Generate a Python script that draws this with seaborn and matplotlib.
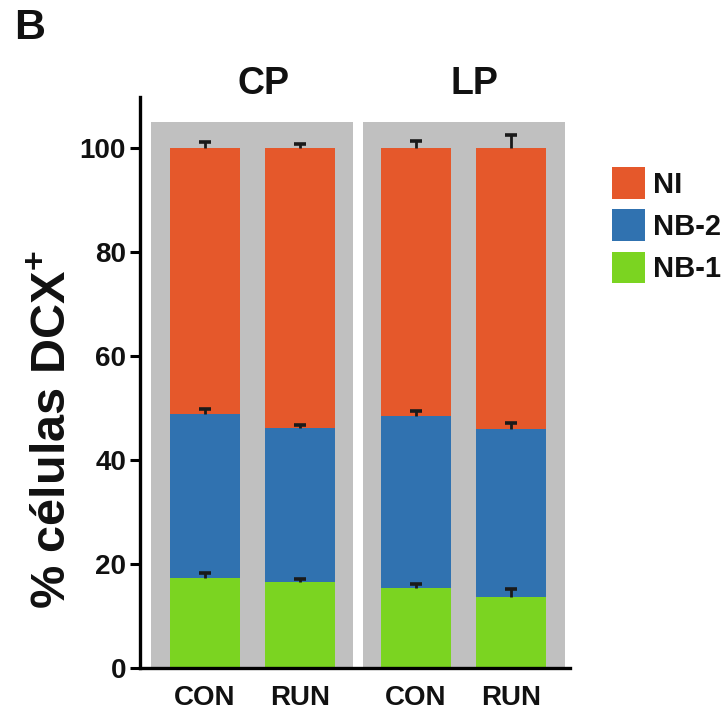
import numpy as np
import pandas as pd
import seaborn as sns
import matplotlib
matplotlib.use("Agg")
import matplotlib.pyplot as plt
from matplotlib.patches import Patch

# Stacked composition (%) of DCX+ cells per group
groups = ["CP", "CP", "LP", "LP"]
conditions = ["CON", "RUN", "CON", "RUN"]
nb1 = [17.3, 16.5, 15.3, 13.7]
nb2 = [31.5, 29.6, 33.1, 32.2]
ni = [51.2, 53.9, 51.6, 54.1]
err_nb1 = [1.0, 0.7, 0.8, 1.5]
err_nb2 = [1.0, 0.7, 1.0, 1.2]
err_ni = [1.2, 0.7, 1.3, 2.4]
layer_names = ["NI", "NB-2", "NB-1"]
layer_colors = ["#E5582B", "#3072B0", "#7BD421"]
panel_color = "#C0C0C0"
yticks = [0, 20, 40, 60, 80, 100]

sns.set_theme(style="white")
plt.rcParams["font.family"] = ["Liberation Sans", "DejaVu Sans"]
plt.rcParams["font.weight"] = "bold"
plt.rcParams["text.color"] = "#111111"
plt.rcParams["xtick.color"] = "#111111"
plt.rcParams["ytick.color"] = "#111111"
plt.rcParams["mathtext.fontset"] = "custom"
plt.rcParams["mathtext.rm"] = "Liberation Sans:bold"
plt.rcParams["mathtext.bf"] = "Liberation Sans:bold"

# x layout: bars one unit apart within a group, groups separated by a wider gap
group_order = ["CP", "LP"]
group_step = 2.221
gidx = np.array([group_order.index(g) for g in groups])
cidx = np.array([0 if c == "CON" else 1 for c in conditions])
xpos = gidx * group_step + cidx

cum1 = np.array(nb1)
cum2 = cum1 + np.array(nb2)
cum3 = cum2 + np.array(ni)
df = pd.DataFrame({"x": xpos, "NB-1": cum1, "NB-2": cum2, "NI": cum3})

fig = plt.figure(figsize=(7.22, 7.13), dpi=100)
ax = fig.add_axes([0.1939, 0.0631, 0.5956, 0.8009])

# gray group panels
for gi, g in enumerate(group_order):
    c = gi * group_step + 0.5
    ax.fill_between([c - 1.063, c + 1.063], 0, 105, color=panel_color,
                    linewidth=0, zorder=0)

# cumulative bars, tallest first so each layer shows above the one below
for name, col in zip(layer_names, layer_colors):
    sns.barplot(data=df, x="x", y=name, native_scale=True, width=0.737,
                color=col, saturation=1, linewidth=0, errorbar=None, ax=ax,
                zorder=2)

# upper-only error bars at each layer's top
for tops, errs in [(cum1, err_nb1), (cum2, err_nb2), (cum3, err_ni)]:
    line, caps, bars = ax.errorbar(xpos, tops, yerr=[np.zeros(4), errs],
                                   fmt="none", ecolor="#1a1a1a", elinewidth=2.0,
                                   capsize=4.3, capthick=2.6, zorder=5)
    for cap in caps:
        if np.allclose(cap.get_ydata(), tops):
            cap.set_visible(False)

ax.set_xlim(-0.684, 3.842)
ax.set_ylim(0, 109.8)
ax.set_yticks(yticks)
ax.set_yticklabels([str(t) for t in yticks], fontsize=20, fontweight="bold")
ax.set_xticks(xpos)
ax.set_xticklabels(conditions, fontsize=20, fontweight="bold")
ax.tick_params(axis="x", length=0, pad=12)
ax.tick_params(axis="y", length=7, width=2.2, direction="out", pad=3,
               left=True, color="black")
ax.set_xlabel("")
ax.set_ylabel("")
for s in ["top", "right"]:
    ax.spines[s].set_visible(False)
for s in ["left", "bottom"]:
    ax.spines[s].set_linewidth(2.4)
    ax.spines[s].set_color("black")

# group titles
for gi, g in enumerate(group_order):
    c = gi * group_step + 0.5 + 0.12
    ax.text(c, 112.2, g, ha="center", va="center", fontsize=27,
            fontweight="bold", clip_on=False)

fig.text(54 / 722, 1 - 430 / 713, r"% células DCX$^{\mathregular{+}}$",
         rotation=90, ha="center", va="center", fontsize=35,
         fontweight="bold")
fig.text(14 / 722, 1 - 28 / 713, "B", ha="left", va="center", fontsize=31,
         fontweight="bold")

handles = [Patch(facecolor=c, edgecolor="none") for c in layer_colors]
fig.legend(handles, layer_names, loc="upper left",
           bbox_to_anchor=(612 / 722, 1 - 167 / 713), frameon=False,
           prop={"size": 21, "weight": "bold"}, handlelength=1.12,
           handleheight=1.3, handletextpad=0.28, labelspacing=0.36,
           borderpad=0, borderaxespad=0)

fig.savefig("out.png", dpi=100)
